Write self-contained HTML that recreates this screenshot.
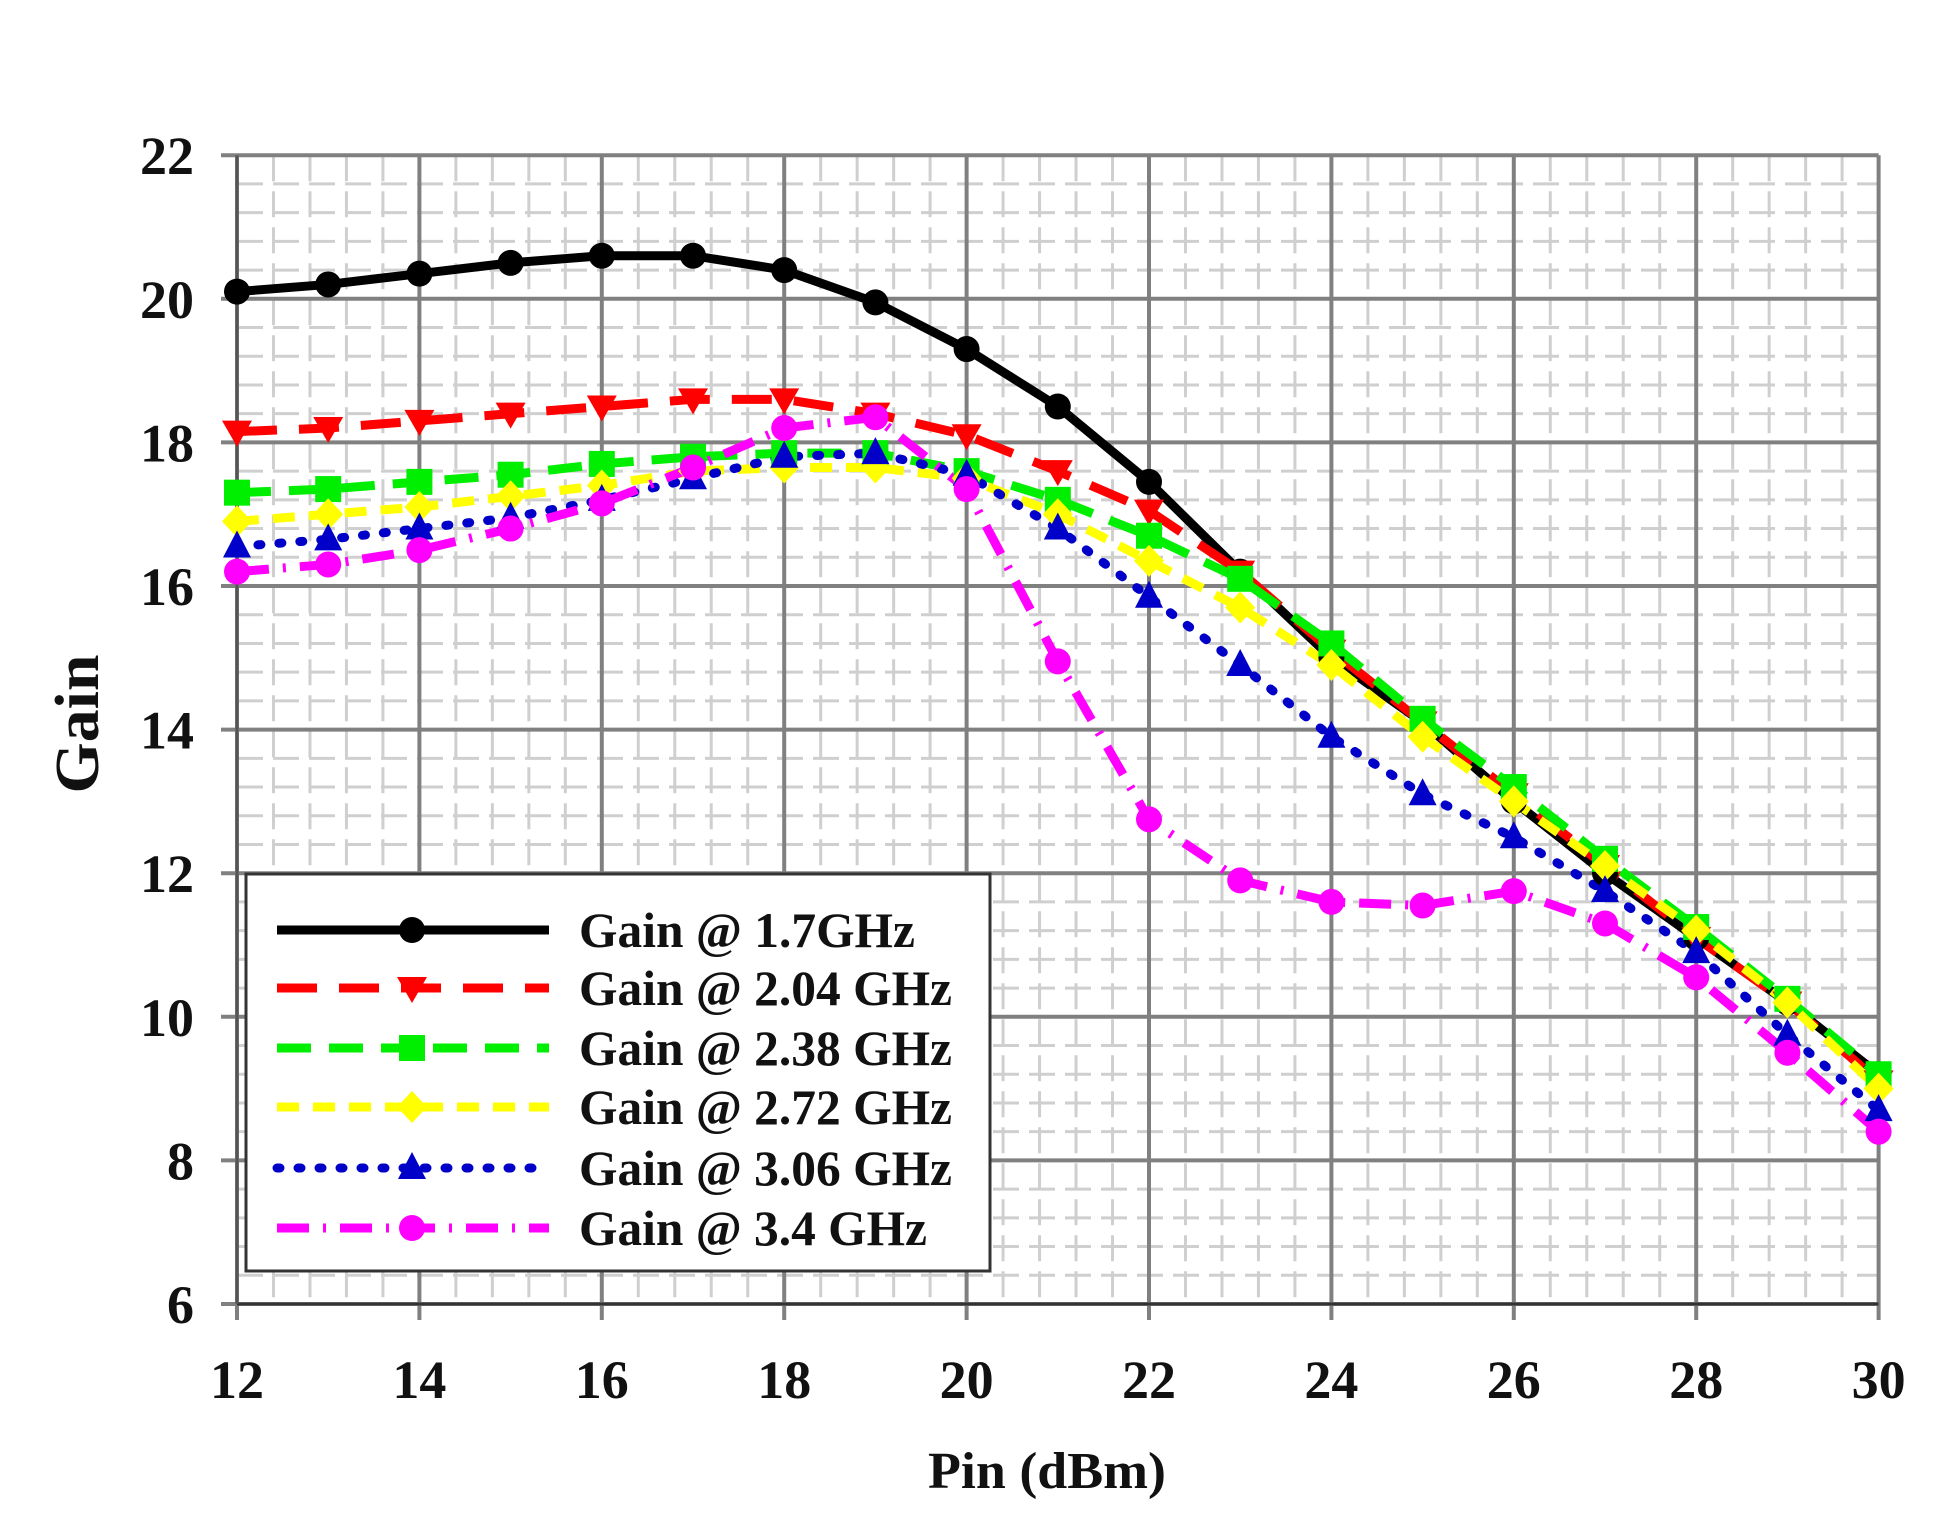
<!DOCTYPE html>
<html><head><meta charset="utf-8"><style>html,body{margin:0;padding:0;background:#fff}svg{display:block}</style></head>
<body>
<svg id="s" width="1957" height="1528" viewBox="0 0 1957 1528" xmlns="http://www.w3.org/2000/svg" font-family="Liberation Serif, serif" font-weight="bold">
<rect width="1957" height="1528" fill="#fff"/>
<g id="grid"></g>
<g id="series"></g>
<g id="legend"></g>
<g id="labels"></g>
</svg>
<script>
var NS="http://www.w3.org/2000/svg";
function el(p,t,a,txt){var e=document.createElementNS(NS,t);for(var k in a)e.setAttribute(k,a[k]);if(txt!==undefined)e.textContent=txt;document.getElementById(p).appendChild(e);return e;}
var X0=237,XS=91.2,Y0=1304,YS=71.8;
function X(v){return X0+(v-12)*XS}function Y(v){return Y0-(v-6)*YS}
for(var i=0;i<=45;i++){var v=12+i*0.4;if(i%5==0)continue;el("grid","line",{x1:X(v),x2:X(v),y1:Y(22),y2:Y(6),stroke:"#cfcfcf","stroke-width":3,"stroke-dasharray":"26 10"});}
for(var i=0;i<=40;i++){var v=6+i*0.4;if(i%5==0)continue;el("grid","line",{x1:X(12),x2:X(30),y1:Y(v),y2:Y(v),stroke:"#cfcfcf","stroke-width":3,"stroke-dasharray":"26 10"});}
for(var v=12;v<=30;v+=2){el("grid","line",{x1:X(v),x2:X(v),y1:Y(22),y2:Y(6)+16,stroke:"#808080","stroke-width":4});}
for(var v=6;v<=22;v+=2){el("grid","line",{x1:X(12)-16,x2:X(30),y1:Y(v),y2:Y(v),stroke:"#808080","stroke-width":4});}
el("grid","line",{x1:X(12),x2:X(30),y1:Y(6),y2:Y(6),stroke:"#333","stroke-width":3});
el("grid","line",{x1:X(12),x2:X(12),y1:Y(22),y2:Y(6),stroke:"#555","stroke-width":3});
var D=[
["#000","",[20.1,20.2,20.35,20.5,20.6,20.6,20.4,19.95,19.3,18.5,17.45,16.2,15.0,14.1,13.0,12.0,11.1,10.2,9.2],"c"],
["#f00","40 22",[18.15,18.2,18.3,18.4,18.5,18.6,18.6,18.4,18.1,17.6,17.05,16.2,15.1,14.1,13.1,12.1,11.1,10.2,9.1],"v"],
["#0e0","34 18",[17.3,17.35,17.45,17.55,17.7,17.8,17.85,17.85,17.6,17.2,16.7,16.1,15.2,14.15,13.2,12.2,11.25,10.25,9.2],"s"],
["#ff0","22 14",[16.9,17.0,17.1,17.25,17.4,17.6,17.65,17.65,17.5,17.0,16.35,15.7,14.9,13.9,13.0,12.1,11.2,10.2,9.0],"d"],
["#0000c8","3 18",[16.55,16.65,16.8,16.95,17.2,17.5,17.8,17.85,17.55,16.8,15.85,14.9,13.9,13.1,12.5,11.75,10.9,9.75,8.7],"t"],
["#f0f","32 14 3 14",[16.2,16.3,16.5,16.8,17.15,17.65,18.2,18.35,17.35,14.95,12.75,11.9,11.6,11.55,11.75,11.3,10.55,9.5,8.4],"c"]];
function marker(g,x,y,t,c){
 if(t=="c")el(g,"circle",{cx:x,cy:y,r:13,fill:c});
 else if(t=="v")el(g,"polygon",{points:(x-15)+","+(y-11)+" "+(x+15)+","+(y-11)+" "+x+","+(y+15),fill:c});
 else if(t=="s")el(g,"rect",{x:x-13,y:y-13,width:26,height:26,fill:c});
 else if(t=="d")el(g,"polygon",{points:x+","+(y-16)+" "+(x+15)+","+y+" "+x+","+(y+16)+" "+(x-15)+","+y,fill:c});
 else el(g,"polygon",{points:x+","+(y-16)+" "+(x+14)+","+(y+11)+" "+(x-14)+","+(y+11),fill:c});
}
D.forEach(function(s,k){var pts=s[2].map(function(v,i){return X(12+i)+","+Y(v)}).join(" ");
 el("series","polyline",{points:pts,fill:"none",stroke:s[0],"stroke-width":9,"stroke-dasharray":s[1],"stroke-linecap":k==4?"round":"butt"});});
D.forEach(function(s){s[2].forEach(function(v,i){marker("series",X(12+i),Y(v),s[3],s[0]);});});
el("legend","rect",{x:246,y:874,width:744,height:397,fill:"#fff",stroke:"#333","stroke-width":3});
var names=["Gain @ 1.7GHz","Gain @ 2.04 GHz","Gain @ 2.38 GHz","Gain @ 2.72 GHz","Gain @ 3.06 GHz","Gain @ 3.4 GHz"];
var tl=[336,373,373,373,373,348],ry=[930,988,1048,1107,1168,1228];
D.forEach(function(s,k){el("legend","line",{x1:277,x2:549,y1:ry[k],y2:ry[k],stroke:s[0],"stroke-width":9,"stroke-dasharray":s[1],"stroke-linecap":k==4?"round":"butt"});
 marker("legend",412,ry[k],s[3],s[0]);
 el("legend","text",{x:579,y:ry[k]+17,"font-size":50,textLength:tl[k],lengthAdjust:"spacingAndGlyphs",fill:"#111"},names[k]);});
for(var v=6;v<=22;v+=2)el("labels","text",{x:194,y:Y(v)+19,"font-size":54,"text-anchor":"end",fill:"#111"},v);
for(var v=12;v<=30;v+=2)el("labels","text",{x:X(v),y:1398,"font-size":54,"text-anchor":"middle",fill:"#111"},v);
el("labels","text",{x:1047,y:1488,"font-size":52,"text-anchor":"middle",textLength:238,lengthAdjust:"spacingAndGlyphs",fill:"#111"},"Pin (dBm)");
el("labels","text",{x:0,y:0,"font-size":62,"text-anchor":"middle",textLength:139,lengthAdjust:"spacingAndGlyphs",fill:"#111",transform:"translate(98,724) rotate(-90)"},"Gain");
</script>
</body></html>
